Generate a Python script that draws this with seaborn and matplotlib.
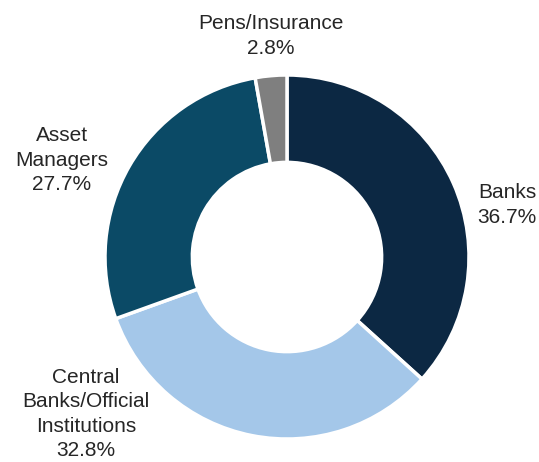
import matplotlib
matplotlib.use("Agg")
import matplotlib.pyplot as plt
import seaborn as sns

# Data
categories = ["Banks", "Central\nBanks/Official\nInstitutions", "Asset\nManagers", "Pens/Insurance"]
shares = [36.7, 32.8, 27.7, 2.8]
colors = sns.color_palette(["#0c2843", "#a4c7e9", "#0b4a66", "#7f7f7f"])

# label anchors (pixel positions in the 539x462 frame)
label_px = [(507, 205), (86, 414), (62, 160), (271, 36)]

sns.set_theme(style="white")
plt.rcParams["font.family"] = ["Liberation Sans", "DejaVu Sans"]

cx, cy, r = 287, 257, 182
W, H = 539, 462

fig = plt.figure(figsize=(W / 100, H / 100), dpi=100)
ax = fig.add_axes([0, 0, 1, 1])
ax.pie(shares, colors=colors, startangle=90, counterclock=False,
       radius=1, wedgeprops=dict(width=0.48, edgecolor="white", linewidth=2.5))
ax.set_xlim(-cx / r, (W - cx) / r)
ax.set_ylim(-(H - cy) / r, cy / r)
ax.set_aspect("equal")
ax.axis("off")

for name, val, (px, py) in zip(categories, shares, label_px):
    ax.text((px - cx) / r, (cy - py) / r, f"{name}\n{val:.1f}%",
            ha="center", va="center", fontsize=15, linespacing=1.36, color="#262626")

fig.savefig("out.png", dpi=100)
